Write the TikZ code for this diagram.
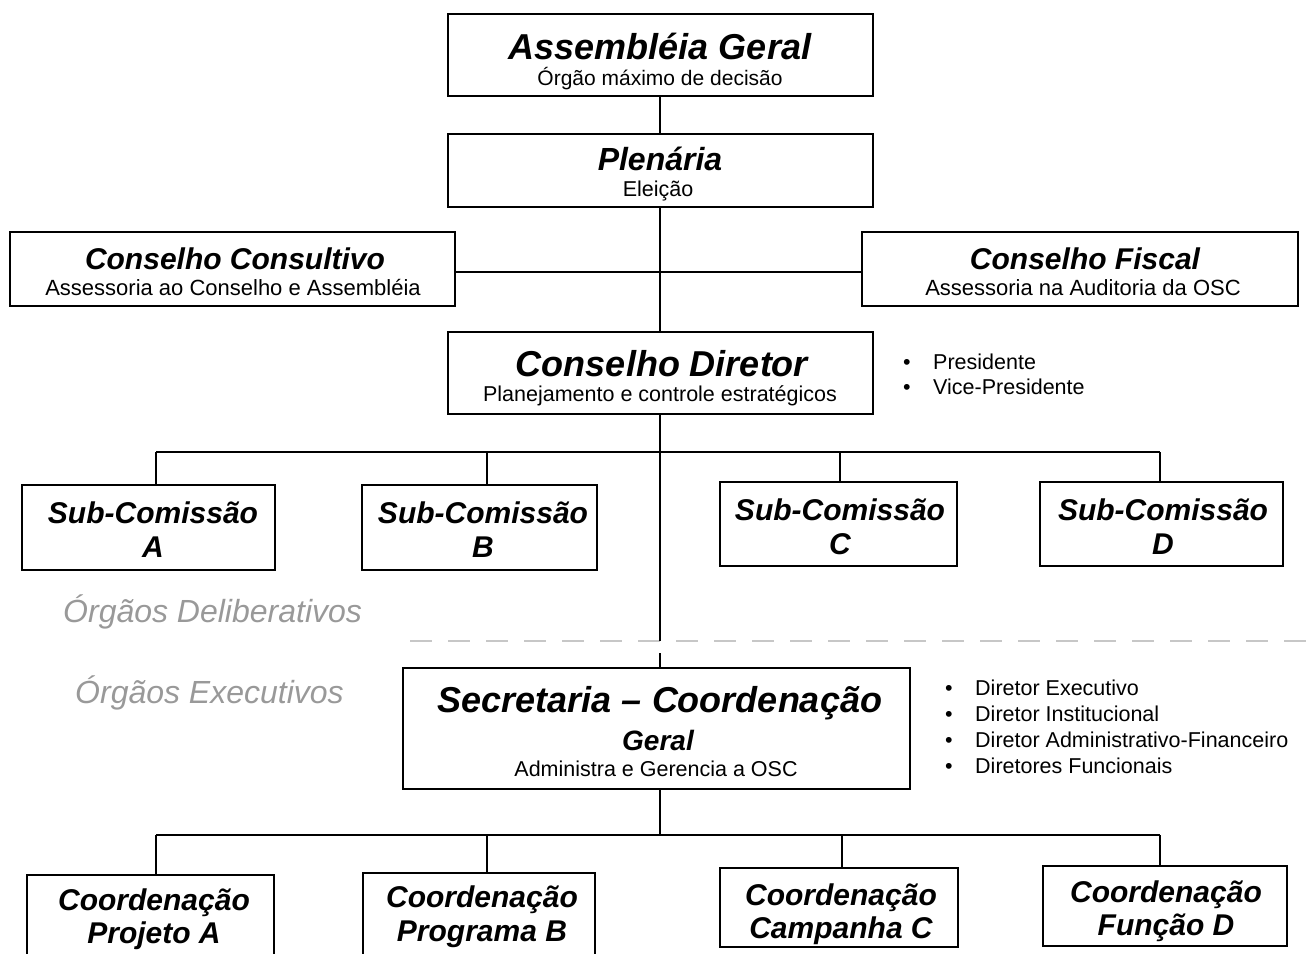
\documentclass[tikz,border=0pt]{standalone}
\usepackage{fontspec}
\setmainfont{Liberation Sans}
\begin{document}
\begin{tikzpicture}[x=1pt,y=-1pt,
  box/.style={draw, line width=2pt, fill=white, inner sep=0pt},
  conn/.style={line width=2pt},
  titleline/.style={anchor=base, inner sep=0pt,
    font={\fontsize{#1}{#1}\selectfont\bfseries\itshape}},
  subline/.style={anchor=base, inner sep=0pt,
    font={\fontsize{#1}{#1}\selectfont}},
  bul/.style={anchor=base west, inner sep=0pt,
    font={\fontsize{21.5}{22}\selectfont}},
  zone/.style={anchor=base west, inner sep=0pt, text=black!40,
    font={\fontsize{32}{33}\selectfont\itshape}},
]
\useasboundingbox (0,0) rectangle (1313,953);
\clip (0,0) rectangle (1313,953);

% boundary between deliberative and executive bodies
\coordinate (sepL) at (410,641);
\coordinate (sepR) at (1313,641);
\draw[black!22, line width=1.6pt, dash pattern=on 22pt off 16pt] (sepL) -- (sepR);

% ---------- boxes ----------
\node[box, minimum width=425pt, minimum height=82pt] (ag) at (660,55) {};
\node[box, minimum width=425pt, minimum height=73pt] (pl) at (660,170.5) {};
\node[box, minimum width=445pt, minimum height=74pt] (cc) at (232.5,269) {};
\node[box, minimum width=436pt, minimum height=74pt] (cf) at (1080,269) {};
\node[box, minimum width=425pt, minimum height=82pt] (cd) at (660,373) {};

\node[box, minimum width=253pt, minimum height=85pt] (sA) at (148.5,527.5) {};
\node[box, minimum width=235pt, minimum height=85pt] (sB) at (479.5,527.5) {};
\node[box, minimum width=237pt, minimum height=84pt] (sC) at (838.5,524) {};
\node[box, minimum width=243pt, minimum height=84pt] (sD) at (1161.5,524) {};

\node[box, minimum width=507pt, minimum height=121pt] (sec) at (656.5,728.5) {};

\node[box, minimum width=247pt, minimum height=92pt] (cA) at (150.5,921) {};
\node[box, minimum width=232pt, minimum height=92pt] (cB) at (479,919) {};
\node[box, minimum width=238pt, minimum height=79pt] (cC) at (839,907.5) {};
\node[box, minimum width=244pt, minimum height=80pt] (cD) at (1165,906) {};

% ---------- box texts ----------
\node[titleline=36] (agT) at (660,59) {Assembléia Geral};
\node[subline=21] (agS) at (660,85) {Órgão máximo de decisão};

\node[titleline=32] (plT) at (660,170) {Plenária};
\node[subline=21.5] (plS) at (658,196) {Eleição};

\node[titleline=30] (ccT) at (235,269) {Conselho Consultivo};
\node[subline=22] (ccS) at (233,295) {Assessoria ao Conselho e Assembléia};

\node[titleline=30] (cfT) at (1085,269) {Conselho Fiscal};
\node[subline=22] (cfS) at (1083,295) {Assessoria na Auditoria da OSC};

\node[titleline=36] (cdT) at (662,376) {Conselho Diretor};
\node[subline=21.5] (cdS) at (660,401) {Planejamento e controle estratégicos};

\node[titleline=30] (sAT) at (153,523) {Sub-Comissão};
\node[titleline=30] (sAL) at (153,557) {A};
\node[titleline=30] (sBT) at (483,523) {Sub-Comissão};
\node[titleline=30] (sBL) at (483,557) {B};
\node[titleline=30] (sCT) at (840,520) {Sub-Comissão};
\node[titleline=30] (sCL) at (840,554) {C};
\node[titleline=30] (sDT) at (1163,520) {Sub-Comissão};
\node[titleline=30] (sDL) at (1163,554) {D};

\node[titleline=36] (secT) at (660,712) {Secretaria – Coordenação};
\node[titleline=28] (secG) at (658,750) {Geral};
\node[subline=21.5] (secS) at (656,776) {Administra e Gerencia a OSC};

\node[titleline=30] (cAT) at (154,910) {Coordenação};
\node[titleline=30] (cAL) at (154,943) {Projeto A};
\node[titleline=30] (cBT) at (482,907) {Coordenação};
\node[titleline=30] (cBL) at (482,941) {Programa B};
\node[titleline=30] (cCT) at (841,905) {Coordenação};
\node[titleline=30] (cCL) at (841,938) {Campanha C};
\node[titleline=30] (cDT) at (1166,902) {Coordenação};
\node[titleline=30] (cDL) at (1166,935) {Função D};

% ---------- side lists and zone labels ----------
\node[bul] (b1) at (903,369) {\makebox[30pt][l]{•}Presidente};
\node[bul] (b2) at (903,394) {\makebox[30pt][l]{•}Vice-Presidente};

\node[bul] (d1) at (945,695) {\makebox[30pt][l]{•}Diretor Executivo};
\node[bul] (d2) at (945,721) {\makebox[30pt][l]{•}Diretor Institucional};
\node[bul] (d3) at (945,747) {\makebox[30pt][l]{•}Diretor Administrativo-Financeiro};
\node[bul] (d4) at (945,773) {\makebox[30pt][l]{•}Diretores Funcionais};

\node[zone] (zd) at (63,622) {Órgãos Deliberativos};
\node[zone] (ze) at (75,703) {Órgãos Executivos};

% ---------- connectors ----------
\draw[conn] (ag.south) -- (pl.north);
\draw[conn] (pl.south) -- (cd.north);
\draw[conn] (cc.east |- 0,272) -- (cf.west |- 0,272);
\coordinate (gapT) at (660,641);
\coordinate (gapB) at (660,653);
\draw[conn] (cd.south) -- (gapT);
\draw[conn] (gapB) -- (gapB |- sec.north);
\draw[conn] (sec.south -| 660,0) -- (660,835);

% bus to sub-commissions
\coordinate (busA) at (156,452);
\coordinate (busD) at (1160,452);
\draw[conn] (busA) -- (busD);
\draw[conn] (busA) -- (busA |- sA.north);
\draw[conn] (487,452) -- (sB.north -| 487,0);
\draw[conn] (840,452) -- (sC.north -| 840,0);
\draw[conn] (busD) -- (busD |- sD.north);

% bus to coordinations
\coordinate (lowA) at (156,835);
\coordinate (lowD) at (1160,835);
\draw[conn] (lowA) -- (lowD);
\draw[conn] (lowA) -- (lowA |- cA.north);
\draw[conn] (487,835) -- (cB.north -| 487,0);
\draw[conn] (842,835) -- (cC.north -| 842,0);
\draw[conn] (lowD) -- (lowD |- cD.north);
\end{tikzpicture}
\end{document}
